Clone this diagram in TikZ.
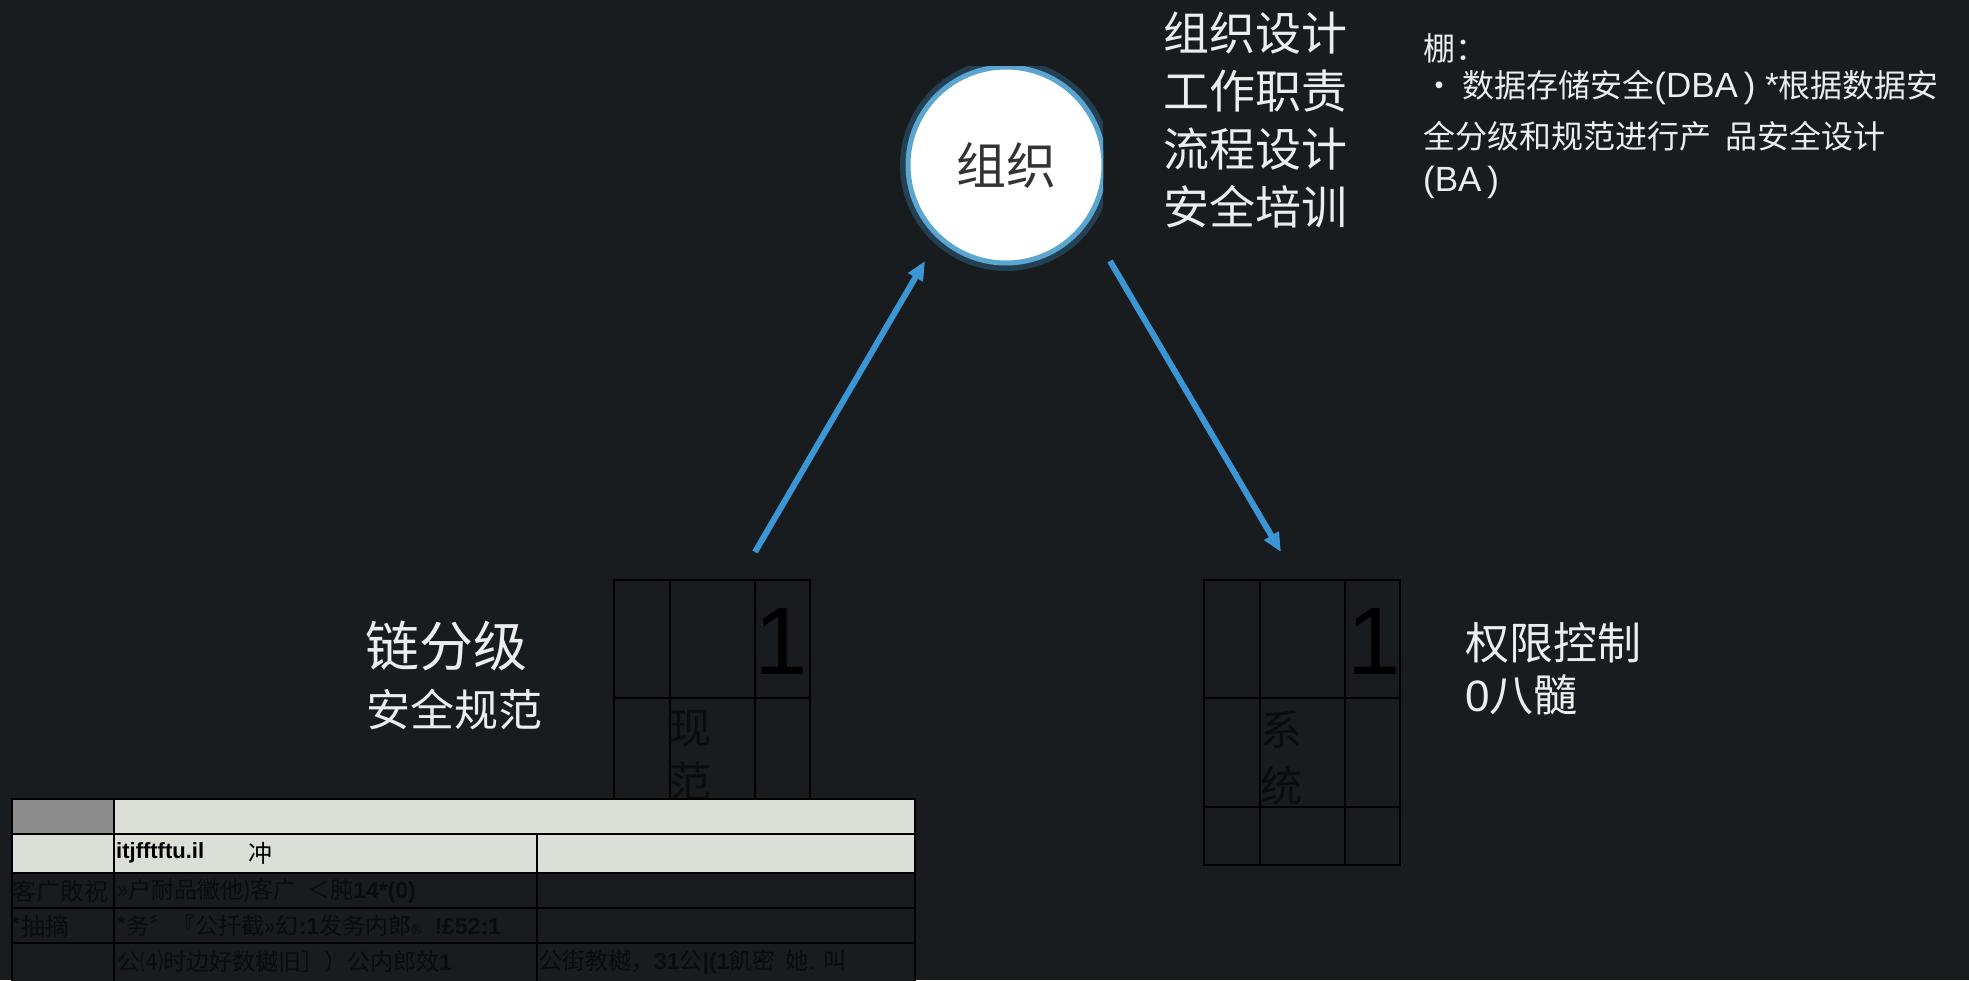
\documentclass[tikz,border=0pt]{standalone}
\usepackage{fontspec}
\setmainfont{Liberation Sans}
\newfontfamily\cjk{Noto Sans CJK SC}
\usetikzlibrary{arrows.meta}
\newcommand{\fsz}[1]{\fontsize{#1}{#1}\selectfont}
\definecolor{bg}{RGB}{24,28,31}
\definecolor{arrowblue}{RGB}{58,150,212}
\definecolor{rim}{RGB}{62,150,200}
\definecolor{pale}{RGB}{220,223,216}
\definecolor{ink}{RGB}{10,12,13}

\begin{document}
\begin{tikzpicture}[x=1pt,y=-1pt,
	arr/.style={draw=arrowblue,line width=6pt,-{Triangle[length=19pt,width=16pt]}},
	lbl/.style={inner sep=0pt,anchor=west,text=white!93!black},
	dim/.style={inner sep=0pt,anchor=west,text=ink},
	gridline/.style={draw=black,line width=2pt}]
	\useasboundingbox (0,0) rectangle (1969,980);
	\fill[bg] (0,0) rectangle (1969,980);
	\clip (0,0) rectangle (1969,980);

	% circle
	\begin{scope}
		\clip (880,66) rectangle (1103,300);
		\fill[rim,opacity=.3] (1006,165) circle (106);
		\node[circle,fill=white,draw=rim!85!white,line width=5pt,minimum size=196pt,inner sep=0pt,
			font=\cjk\fsz{50},text=black!80] (O) at (1006,165) {组织};
	\end{scope}

	\foreach \t [count=\i] in {组织设计,工作职责,流程设计,安全培训}
		\node[lbl,font=\cjk\fsz{46}] (D\i) at (1163,33+58*\i-58) {\t};

	\node[lbl,font=\cjk\fsz{32}] (N1) at (1423,48) {棚：};
	\node[lbl,font=\fsz{35}] (N2) at (1423,88) {{\cjk\fsz{32}・\ 数据存储安全}(DBA\,)\ *{\cjk\fsz{32}根据数据安}};
	\node[lbl,font=\cjk\fsz{32}] (N3) at (1423,136) {全分级和规范进行产\ \ 品安全设计};
	\node[lbl,font=\fsz{35}] (N4) at (1423,182) {(BA\,)};

	% arrows
	\coordinate (a1) at (755,552);
	\coordinate (b1) at (1110,261);
	\draw[arr] (a1) -- +(170,-291);
	\draw[arr] (b1) -- +(171,291);

	% side labels
	\node[lbl,font=\cjk\fsz{54}] (L1) at (365,646) {链分级};
	\node[lbl,font=\cjk\fsz{44}] (L2) at (366,710) {安全规范};
	\node[lbl,font=\cjk\fsz{44}] (R1) at (1465,643) {权限控制};
	\node[lbl,font=\fsz{44}] (R2) at (1465,695) {0{\cjk 八髓}};

	% grids
	\foreach \gx in {614,1204} {
		\draw[gridline] (\gx,580) rectangle ++(196,285);
		\draw[gridline] (\gx+56,580) -- ++(0,285) (\gx+141,580) -- ++(0,285)
			(\gx,698) -- ++(196,0) (\gx,807) -- ++(196,0);
	}
	\node[inner sep=0pt,font=\fsz{96}] (G1) at (781,641) {1};
	\node[inner sep=0pt,font=\fsz{96}] (G2) at (1374,641) {1};
	\node[dim,font=\cjk\fsz{42}] (G3) at (669,729) {现};
	\node[dim,font=\cjk\fsz{42}] (G4) at (669,781) {范};
	\node[dim,font=\cjk\fsz{42}] (G5) at (1260,729) {系};
	\node[dim,font=\cjk\fsz{42}] (G6) at (1260,785) {统};

	% table
	\fill[black!45] (12,799) rectangle (114,834);
	\fill[pale] (114,799) rectangle (915,834) (12,834) rectangle (915,873);
	\fill[bg] (12,873) rectangle (915,990);
	\draw[gridline] (12,799) rectangle (915,990);
	\foreach \ty in {834,873,908,943} \draw[gridline] (12,\ty) -- (915,\ty);
	\draw[gridline] (114,799) -- (114,990) (537,834) -- (537,990);

	\node[dim,text=black,font=\bfseries\fsz{22}] (T1) at (116,853) {itjfftftu.il};
	\node[dim,text=black,font=\cjk\fsz{24}] (T2) at (248,853) {冲};
	\node[dim,font=\cjk\fsz{24}] (T3) at (12,891) {客广敗祝};
	\node[dim,font=\fsz{23}] (T4) at (117,891) {{\cjk »\textit{户耐}品黴他)客广\ \ ＜肫}\textbf{14*(0)}};
	\node[dim,font=\cjk\fsz{24}] (T5) at (10,926) {*抽摘};
	\node[dim,font=\fsz{23}] (T6) at (116,926) {{\cjk *务〞『公扦截»幻}\textbf{:1}{\cjk 发务内郎}\fsz{14}®\fsz{23}\ \ \textbf{!£52:1}};
	\node[dim,font=\fsz{23}] (T7) at (117,962) {{\cjk 公⑷时边好数樾旧］）公内郎效}\textbf{1}};
	\node[dim,font=\fsz{23}] (T8) at (539,962) {{\cjk 公街教樾，}\textbf{31}{\cjk 公}\textbf{|(1}{\cjk 飢密\ \ 她}. {\cjk 叫}};
\end{tikzpicture}
\end{document}
